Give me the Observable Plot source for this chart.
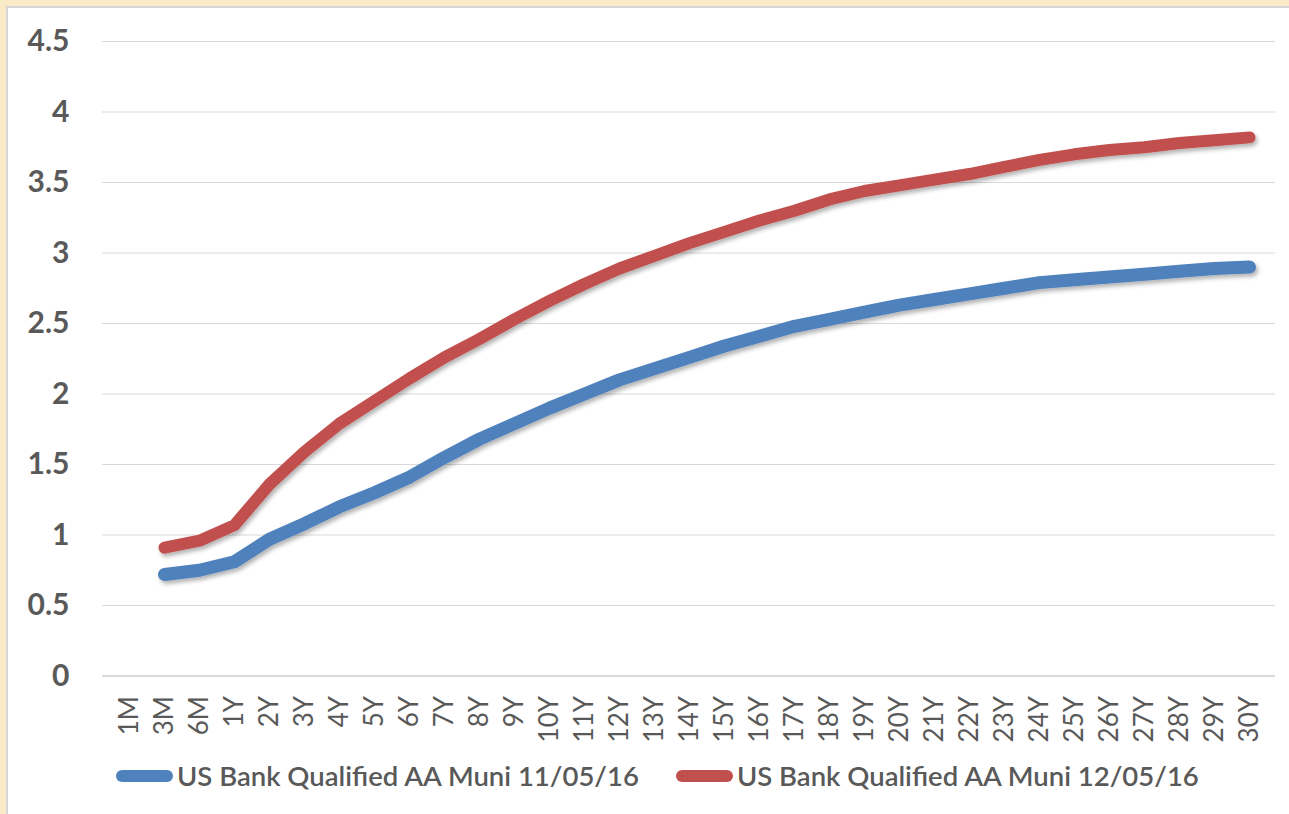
<!DOCTYPE html>
<html>
<head>
<meta charset="utf-8">
<script src="https://cdn.jsdelivr.net/npm/d3@7"></script>
<script src="https://cdn.jsdelivr.net/npm/@observablehq/plot@0.6"></script>
<style>
  html, body { margin: 0; padding: 0; width: 1289px; height: 814px; overflow: hidden; background: #faebc8; }
  #frame { position: absolute; left: 6px; top: 6px; width: 1300px; height: 830px; background: #ffffff; border-left: 2px solid #d6d6d6; border-top: 2px solid #d6d6d6; }
  #chart { position: absolute; left: 0; top: 0; }
  #legend { position: absolute; left: 116px; top: 759px; display: flex; align-items: center; font-family: Lato, "Open Sans", sans-serif; font-size: 27.5px; font-weight: 600; color: #595959; white-space: nowrap; }
  .item { display: flex; align-items: center; margin-right: 37px; }
  .sw { display: inline-block; width: 57px; height: 12px; border-radius: 6px; margin-right: 4px; }
</style>
</head>
<body>
<div id="frame"></div>
<div id="chart"></div>
<div id="legend"></div>
<script>
const tenors = ["1M","3M","6M","1Y","2Y","3Y","4Y","5Y","6Y","7Y","8Y","9Y","10Y","11Y","12Y","13Y","14Y","15Y","16Y","17Y","18Y","19Y","20Y","21Y","22Y","23Y","24Y","25Y","26Y","27Y","28Y","29Y","30Y"];
const seriesNames = ["US Bank Qualified AA Muni 11/05/16", "US Bank Qualified AA Muni 12/05/16"];
const seriesColors = ["#4f81bd", "#c0504d"];
const nov = [null,0.72,0.75,0.81,0.97,1.08,1.20,1.30,1.41,1.55,1.68,1.79,1.90,2.00,2.10,2.18,2.26,2.34,2.41,2.48,2.53,2.58,2.63,2.67,2.71,2.75,2.79,2.81,2.83,2.85,2.87,2.89,2.90];
const dec = [null,0.91,0.96,1.07,1.36,1.59,1.79,1.95,2.11,2.26,2.39,2.53,2.66,2.78,2.89,2.98,3.07,3.15,3.23,3.30,3.38,3.44,3.48,3.52,3.56,3.61,3.66,3.70,3.73,3.75,3.78,3.80,3.82];
const yTicks = [0,0.5,1,1.5,2,2.5,3,3.5,4,4.5];

const rows = [];
[nov, dec].forEach((vals, s) => {
  vals.forEach((v, i) => rows.push({tenor: tenors[i], value: v, series: seriesNames[s]}));
});

const plot = Plot.plot({
  width: 1289,
  height: 752,
  marginLeft: 102,
  marginRight: 14,
  marginTop: 41,
  marginBottom: 76.5,
  style: {background: "transparent", fontFamily: "Lato, 'Open Sans', sans-serif", color: "#595959"},
  x: {type: "point", domain: tenors, padding: 0.5, label: null},
  y: {domain: [0, 4.5], label: null},
  color: {domain: seriesNames, range: seriesColors},
  marks: [
    Plot.gridY(yTicks.filter(d => d > 0), {stroke: "#d9d9d9", strokeOpacity: 1, strokeWidth: 1}),
    Plot.ruleY([0], {stroke: "#d9d9d9", strokeWidth: 2}),
    Plot.axisY({ticks: yTicks, tickSize: 0, tickPadding: 33, tickFormat: d => String(d), fontSize: 30, fontWeight: "bold", fill: "#595959"}),
    Plot.axisX({tickSize: 0, tickPadding: 20, tickRotate: -90, fontSize: 26, fill: "#595959"}),
    Plot.line(rows.filter(r => r.series === seriesNames[0]), {x: "tenor", y: "value", stroke: "series", strokeWidth: 13, strokeLinecap: "round", strokeLinejoin: "round"}),
    Plot.line(rows.filter(r => r.series === seriesNames[1]), {x: "tenor", y: "value", stroke: "series", strokeWidth: 12, strokeLinecap: "round", strokeLinejoin: "round"})
  ]
});
document.getElementById("chart").appendChild(plot);

// soft drop shadow like the original
const svg = d3.select(plot);
const defs = svg.insert("defs", ":first-child");
const f = defs.append("filter").attr("id", "shadow").attr("x", "-5%").attr("y", "-5%").attr("width", "110%").attr("height", "120%");
f.append("feDropShadow").attr("dx", 2).attr("dy", 3).attr("stdDeviation", 2).attr("flood-color", "#000").attr("flood-opacity", 0.3);
svg.selectAll('g[aria-label="line"]').attr("filter", "url(#shadow)");

const legend = d3.select("#legend");
seriesNames.forEach((name, i) => {
  const it = legend.append("div").attr("class", "item");
  it.append("span").attr("class", "sw").style("background", seriesColors[i]);
  it.append("span").text(name);
});
</script>
</body>
</html>
